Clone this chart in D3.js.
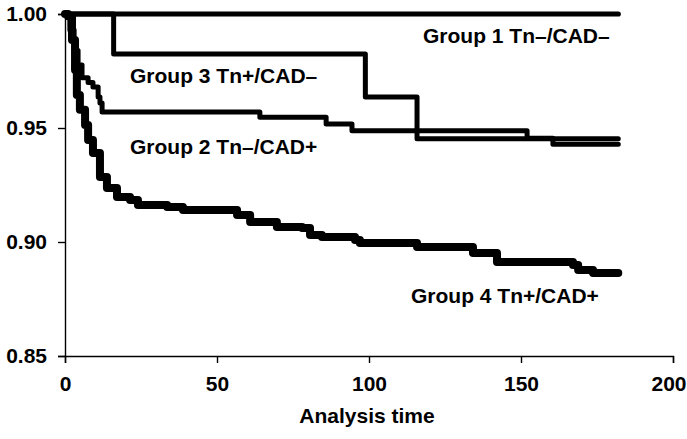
<!DOCTYPE html>
<html>
<head>
<meta charset="utf-8">
<script src="https://cdn.jsdelivr.net/npm/d3@7"></script>
<style>
  html, body { margin: 0; padding: 0; background: #fff; }
  svg text { font-family: "Liberation Sans", Arial, Helvetica, sans-serif; font-weight: bold; fill: #000; }
</style>
</head>
<body>
<svg id="chart" width="687" height="439"></svg>
<script>
// Kaplan-Meier survival steps: time of each step and survival from that time on
const group1Time = [0, 182];
const group1Surv = [1.000, 1.000];

const group3Time = [0, 16, 98.8, 115.8, 182];
const group3Surv = [1.000, 0.9825, 0.9636, 0.9453, 0.9453];

const group2Time = [0, 1.6, 3.0, 4.3, 5.6, 7.6, 9.2, 10.9, 11.5, 12.2, 64.1, 85.9, 94.4, 152, 160.5, 182];
const group2Surv = [1.000, 0.993, 0.984, 0.9776, 0.972, 0.970, 0.968, 0.9636, 0.961, 0.957, 0.9547, 0.9518, 0.9488, 0.9455, 0.9429, 0.9429];

const group4Time = [0, 1.0, 2.3, 3.3, 3.9, 4.9, 6.6, 7.6, 9.2, 11.5, 13.8, 17.1, 21.4, 24, 33.6, 38.8, 56.6, 60.9, 69.7, 78, 80.6, 84.5, 95.4, 97, 115.8, 134.2, 142.1, 167.1, 168.8, 173.7, 182];
const group4Surv = [1.000, 0.999, 0.9886, 0.9754, 0.9645, 0.958, 0.9513, 0.9447, 0.939, 0.9285, 0.9237, 0.9197, 0.9184, 0.9162, 0.9153, 0.914, 0.9118, 0.9088, 0.9066, 0.9061, 0.9031, 0.9022, 0.9009, 0.8996, 0.8978, 0.8952, 0.8912, 0.8899, 0.8877, 0.8864, 0.8864];

const xTicks = [0, 50, 100, 150, 200];
const yTicks = [0.85, 0.90, 0.95, 1.00];

const groupNames = ["Group 1 Tn\u2013/CAD\u2013", "Group 3 Tn+/CAD\u2013", "Group 2 Tn\u2013/CAD+", "Group 4 Tn+/CAD+"];
const xTitle = "Analysis time";

const svg = d3.select("#chart");
const W = 687;

const x = d3.scaleLinear().domain([0, 200]).range([65, 673]);
const y = d3.scaleLinear().domain([0.85, 1.00]).range([356, 14]);

// axes
const xAxis = svg.append("g")
  .attr("transform", "translate(0,356)")
  .call(d3.axisBottom(x).tickValues(xTicks).tickSize(7).tickPadding(13).tickFormat(d3.format("d")));
const yAxis = svg.append("g")
  .attr("transform", "translate(65,0)")
  .call(d3.axisLeft(y).tickValues(yTicks).tickSize(7).tickPadding(11).tickFormat(d3.format(".2f")));

[xAxis, yAxis].forEach(g => {
  g.selectAll("path, line").attr("stroke", "#000").attr("stroke-width", 1.4);
  g.selectAll("text").style("font-size", "21px").style("font-family", "'Liberation Sans', Arial, sans-serif").style("font-weight", "bold");
});

// keep the last x tick label inside the drawing area
xAxis.selectAll(".tick text").each(function(d) {
  const t = d3.select(this);
  const bb = this.getBBox();
  const right = x(d) + bb.x + bb.width;
  if (right > W - 1) t.attr("x", (W - 1) - right);
});

svg.append("text")
  .attr("x", 367).attr("y", 423)
  .attr("text-anchor", "middle")
  .style("font-size", "21px")
  .text(xTitle);

// survival curves
const line = d3.line()
  .x(d => x(d[0]))
  .y(d => y(d[1]))
  .curve(d3.curveStepAfter);

const curves = [
  { t: group4Time, s: group4Surv, w: 8 },
  { t: group2Time, s: group2Surv, w: 5 },
  { t: group3Time, s: group3Surv, w: 5 },
  { t: group1Time, s: group1Surv, w: 5.2 }
];

curves.forEach(c => {
  svg.append("path")
    .datum(d3.zip(c.t, c.s))
    .attr("d", line)
    .attr("fill", "none")
    .attr("stroke", "#000")
    .attr("stroke-width", c.w)
    .attr("stroke-linejoin", "round")
    .attr("stroke-linecap", "round");
});

// group labels
const labelPos = [
  { x: 423, y: 43 },
  { x: 130, y: 83 },
  { x: 130, y: 154 },
  { x: 411, y: 303 }
];
groupNames.forEach((name, i) => {
  svg.append("text")
    .attr("x", labelPos[i].x).attr("y", labelPos[i].y)
    .style("font-size", "21px")
    .text(name);
});
</script>
</body>
</html>
